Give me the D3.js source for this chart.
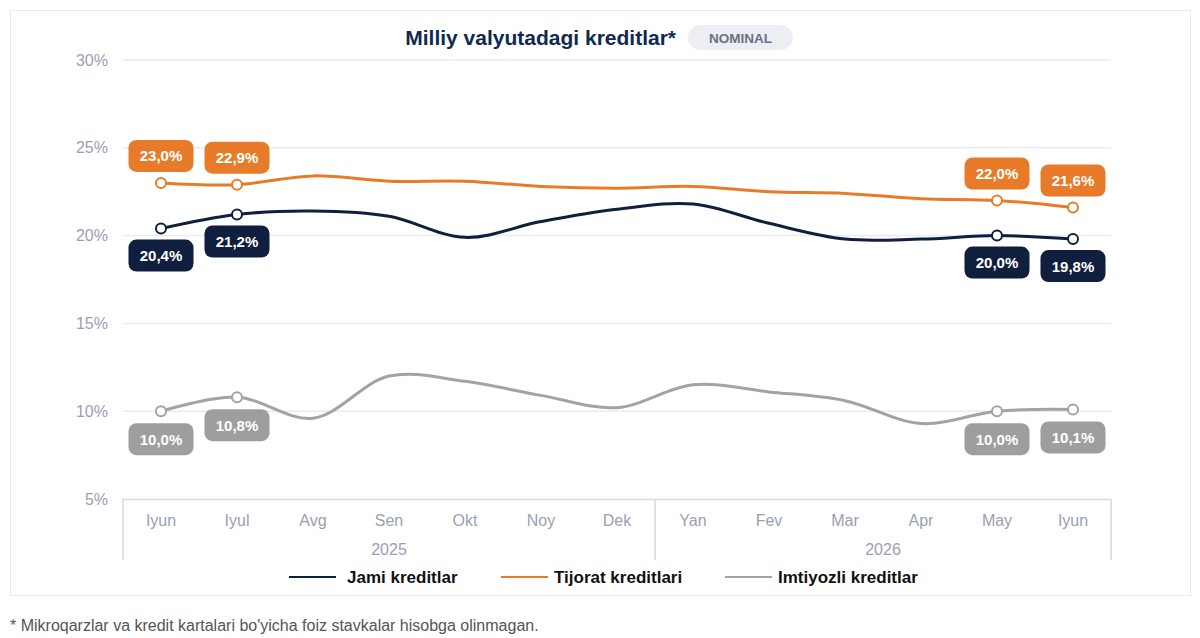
<!DOCTYPE html>
<html>
<head>
<meta charset="utf-8">
<script src="https://cdn.jsdelivr.net/npm/d3@7"></script>
<style>
  body { margin: 0; background: #fff; font-family: "Liberation Sans", Arial, sans-serif; }
  svg { display: block; }
</style>
</head>
<body>
<div id="chart"></div>
<script>
// Data
var months = ['Iyun', 'Iyul', 'Avg', 'Sen', 'Okt', 'Noy', 'Dek', 'Yan', 'Fev', 'Mar', 'Apr', 'May', 'Iyun'];
var years = [
    {label: '2025', first: 0, last: 6},
    {label: '2026', first: 7, last: 12}
];
var yTicks = [5, 10, 15, 20, 25, 30];
var jami = [20.4, 21.2, 21.4, 21.1, 19.9, 20.8, 21.5, 21.8, 20.7, 19.8, 19.8, 20.0, 19.8];
var tijorat = [23.0, 22.9, 23.4, 23.1, 23.1, 22.8, 22.7, 22.8, 22.5, 22.4, 22.1, 22.0, 21.6];
var imtiyozli = [10.0, 10.8, 9.6, 12.0, 11.7, 10.9, 10.2, 11.5, 11.1, 10.6, 9.3, 10.0, 10.1];
var labelled = [0, 1, 11, 12];

var series = [
    {name: 'Jami kreditlar', values: jami, color: '#0f1f3d', box: '#0f1f3d', dy: 27},
    {name: 'Tijorat kreditlari', values: tijorat, color: '#e87b2a', box: '#e87b2a', dy: -27},
    {name: 'Imtiyozli kreditlar', values: imtiyozli, color: '#a3a3a3', box: '#9e9e9e', dy: 28}
];

var W = 1200, H = 638;
var margin = {top: 60, right: 89, bottom: 139, left: 123};
var width = W - margin.left - margin.right,
    height = H - margin.top - margin.bottom;

var svg = d3.select('#chart').append('svg')
    .attr('width', W)
    .attr('height', H);

// card
svg.append('rect')
    .attr('x', 10.5).attr('y', 10.5)
    .attr('width', 1180).attr('height', 585)
    .attr('fill', '#fff')
    .attr('stroke', '#ebebeb');

// title + pill
svg.append('text')
    .attr('x', 676).attr('y', 44.5)
    .attr('text-anchor', 'end')
    .attr('font-size', 21).attr('font-weight', 'bold')
    .attr('fill', '#10294f')
    .text('Milliy valyutadagi kreditlar*');
svg.append('rect')
    .attr('x', 688).attr('y', 25)
    .attr('width', 105).attr('height', 25)
    .attr('rx', 12.5)
    .attr('fill', '#eceef4');
svg.append('text')
    .attr('x', 740.5).attr('y', 42.5)
    .attr('text-anchor', 'middle')
    .attr('font-size', 13.5).attr('font-weight', 'bold')
    .attr('fill', '#6b7082')
    .text('NOMINAL');

var g = svg.append('g')
    .attr('transform', 'translate(' + margin.left + ',' + margin.top + ')');

var x = d3.scaleBand()
    .domain(d3.range(months.length))
    .range([0, width]);
var y = d3.scaleLinear()
    .domain([5, 30])
    .range([height, 0]);
var cx = function(i) { return x(i) + x.bandwidth() / 2; };

// grid
g.selectAll('.grid')
    .data(yTicks.slice(1))
    .enter().append('line')
    .attr('x1', 0).attr('x2', width)
    .attr('y1', function(d) { return y(d); })
    .attr('y2', function(d) { return y(d); })
    .attr('stroke', '#e9ebf1')
    .attr('stroke-width', 1.5);

// y axis labels
var yAxis = g.append('g')
    .call(d3.axisLeft(y).tickValues(yTicks).tickSize(0).tickPadding(15)
        .tickFormat(function(d) { return d + '%'; }));
yAxis.select('.domain').remove();
yAxis.selectAll('text')
    .attr('font-family', '"Liberation Sans", Arial, sans-serif')
    .attr('font-size', 16)
    .attr('fill', '#9aa0b2');

// x axis (months)
var xAxis = g.append('g')
    .attr('transform', 'translate(0,' + height + ')')
    .call(d3.axisBottom(x).tickSize(0).tickPadding(16)
        .tickFormat(function(i) { return months[i]; }));
xAxis.select('.domain').remove();
xAxis.selectAll('text')
    .attr('font-family', '"Liberation Sans", Arial, sans-serif')
    .attr('font-size', 16)
    .attr('fill', '#9aa0b2');

g.append('line')
    .attr('x1', 0).attr('x2', width)
    .attr('y1', height + 0.5).attr('y2', height + 0.5)
    .attr('stroke', '#d6d9e2').attr('stroke-width', 1.5);

// year groups
var yearG = g.selectAll('.year')
    .data(years)
    .enter().append('g');
yearG.append('text')
    .attr('x', function(d) { return (x(d.first) + x(d.last) + x.bandwidth()) / 2; })
    .attr('y', height + 56)
    .attr('text-anchor', 'middle')
    .attr('font-size', 16)
    .attr('fill', '#9aa0b2')
    .text(function(d) { return d.label; });
var seps = [0].concat(years.map(function(d) { return x(d.last) + x.bandwidth(); }));
g.selectAll('.sep')
    .data(seps)
    .enter().append('line')
    .attr('x1', function(d) { return d; })
    .attr('x2', function(d) { return d; })
    .attr('y1', height).attr('y2', height + 61)
    .attr('stroke', '#d6d9e2').attr('stroke-width', 1.5);

// lines
var line = d3.line()
    .x(function(d, i) { return cx(i); })
    .y(function(d) { return y(d); })
    .curve(d3.curveCatmullRom.alpha(0.5));

series.forEach(function(s) {
    g.append('path')
        .datum(s.values)
        .attr('fill', 'none')
        .attr('stroke', s.color)
        .attr('stroke-width', 3)
        .attr('d', line);
});

// markers + value labels
var fmt = function(v) { return d3.format('.1f')(v).replace('.', ',') + '%'; };
series.forEach(function(s) {
    labelled.forEach(function(i) {
        var px = cx(i), py = y(s.values[i]);
        g.append('circle')
            .attr('cx', px).attr('cy', py).attr('r', 5)
            .attr('fill', '#fff')
            .attr('stroke', s.color)
            .attr('stroke-width', 2);
        var lg = g.append('g')
            .attr('transform', 'translate(' + px + ',' + (py + s.dy) + ')');
        lg.append('rect')
            .attr('x', -32.5).attr('y', -16)
            .attr('width', 65).attr('height', 32)
            .attr('rx', 8)
            .attr('fill', s.box);
        lg.append('text')
            .attr('y', 5.5)
            .attr('text-anchor', 'middle')
            .attr('font-size', 15).attr('font-weight', 'bold')
            .attr('fill', '#fff')
            .text(fmt(s.values[i]));
    });
});

// legend
var legendX = [289, 501, 725];
var legendTextX = [58, 53, 53];
var legend = svg.selectAll('.legend')
    .data(series)
    .enter().append('g')
    .attr('transform', function(d, i) { return 'translate(' + legendX[i] + ',577)'; });
legend.append('line')
    .attr('x1', 0).attr('x2', 47)
    .attr('stroke', function(d) { return d.color; })
    .attr('stroke-width', 2);
legend.append('text')
    .attr('x', function(d, i) { return legendTextX[i]; }).attr('y', 6)
    .attr('font-size', 17).attr('font-weight', 'bold')
    .attr('fill', '#111')
    .text(function(d) { return d.name; });

// footnote
svg.append('text')
    .attr('x', 10).attr('y', 631)
    .attr('font-size', 16)
    .attr('fill', '#555')
    .text("* Mikroqarzlar va kredit kartalari bo'yicha foiz stavkalar hisobga olinmagan.");
</script>
</body>
</html>
